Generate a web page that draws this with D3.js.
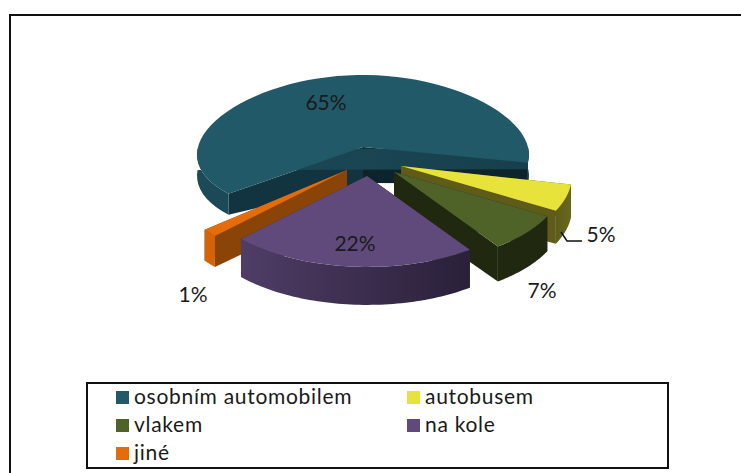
<!DOCTYPE html>
<html><head><meta charset="utf-8">
<script src="https://cdn.jsdelivr.net/npm/d3@7"></script>
<style>html,body{margin:0;padding:0;background:#fff}svg{display:block}text{font-family:Lato,sans-serif;fill:#1a1a1a}</style>
</head><body><svg id="c" width="741" height="473"></svg>
<script>
const categories = ["osobním automobilem","autobusem","vlakem","na kole","jiné"];
const values = [65,5,7,22,1.4];
const labels = ["65%","5%","7%","22%","1%"];

const offsetX = [-2,36,29,2,-18];
const offsetY = [-13,6,12,16,10];
const radScale = [1,1.03,1.02,1.01,1.055];
const apexDepth = [36,37,37,38,34];
const rimDepth = [21,33,35,38,31];
const ySpan = [72,81,81,81,81];
const yPersp = [0,0.11,0.11,0.11,0.11];
const topColors = ["#215968","#e8e33a","#4f6228","#604a7b","#e46c0a"];
const cutStart = ["#123340","#5f5c1a","#20290f","#20290f","#8a4407"];
const cutEnd = ["#0d242d","#5f5c1a","#20290f","#2a2039","#8a4407"];
const wallL = ["#1c4a58","#5f5c1a","#20290f","#4f3d66","#d56408"];
const wallR = ["#173f4c","#6a671e","#20290f","#2a2039","#d56408"];
const labelPos = [[326,102],[601,234],[542,290],[355,243],[193,294]];
const drawOrder = [0,1,2,4,3];

const cx=365, cy=160, R=165, persp=0.11, startDeg=229.5;
const svg = d3.select("#c");
const defs = svg.append("defs");

svg.append("rect").attr("x",10).attr("y",15).attr("width",800).attr("height",500).attr("fill","#fff").attr("stroke","#111").attr("stroke-width",2);

const pie = d3.pie().sort(null).value(d=>d).startAngle(startDeg*Math.PI/180).endAngle((startDeg+360)*Math.PI/180);
const arcs = pie(values);

function proj(i, a, r, ox, oy, dz){
  const X=Math.sin(a)*r, Y=Math.cos(a)*r;
  return [ox+X*R*(1-persp*Y), oy-Y*ySpan[i]*(1-yPersp[i]*Y)+(dz||0)];
}
const line = d3.line();
const g = svg.append("g");
drawOrder.forEach(i=>{
  const d=arcs[i], rs=radScale[i];
  const ox=cx+offsetX[i], oy=cy+offsetY[i];
  const steps=d3.range(0,61).map(t=>d.startAngle+(d.endAngle-d.startAngle)*t/60);
  const cut=(a,col)=>{
    g.append("path").attr("d",line([proj(i,a,0,ox,oy),proj(i,a,rs,ox,oy),proj(i,a,rs,ox,oy,rimDepth[i]),proj(i,a,0,ox,oy,apexDepth[i])])+"Z").attr("fill",col);
  };
  cut(d.startAngle,cutStart[i]);
  cut(d.endAngle,cutEnd[i]);
  // outer wall: only the front part of the rim
  const front=steps.filter(a=>{const m=((a%(2*Math.PI))+2*Math.PI)%(2*Math.PI);return m>=Math.PI/2-0.02&&m<=Math.PI*1.5+0.02;});
  if(front.length>1){
    const gid="w"+i;
    const gr=defs.append("linearGradient").attr("id",gid);
    gr.append("stop").attr("offset",0).attr("stop-color",wallL[i]);
    gr.append("stop").attr("offset",1).attr("stop-color",wallR[i]);
    const a=front.map(t=>proj(i,t,rs,ox,oy));
    const b=front.slice().reverse().map(t=>proj(i,t,rs,ox,oy,rimDepth[i]));
    g.append("path").attr("d",line(a.concat(b))+"Z").attr("fill",`url(#${gid})`);
  }
  const top=[proj(i,0,0,ox,oy)].concat(steps.map(a=>proj(i,a,rs,ox,oy)));
  g.append("path").attr("d",line(top)+"Z").attr("fill",topColors[i]);
});

// leader line of the 5% label
svg.append("path").attr("d",d3.line()([[561,232],[567,241],[582,241]])).attr("fill","none").attr("stroke","#111").attr("stroke-width",1.5);

labels.forEach((t,i)=>{
  svg.append("text").attr("x",labelPos[i][0]).attr("y",labelPos[i][1]+7.5).attr("text-anchor","middle").attr("font-size",21).text(t);
});

// legend
const lx=87, ly=383, lw=581, lh=85;
svg.append("rect").attr("x",lx).attr("y",ly).attr("width",lw).attr("height",lh).attr("fill","#fff").attr("stroke","#111").attr("stroke-width",2);
const col=[116,407], row=[397,425,453];
categories.forEach((c,i)=>{
  const x=col[i%2], y=row[Math.floor(i/2)];
  svg.append("rect").attr("x",x).attr("y",y-6).attr("width",13).attr("height",13).attr("fill",topColors[i]);
  svg.append("text").attr("x",x+18).attr("y",y+7).attr("font-size",21).attr("letter-spacing",0.7).text(c);
});
</script></body></html>
